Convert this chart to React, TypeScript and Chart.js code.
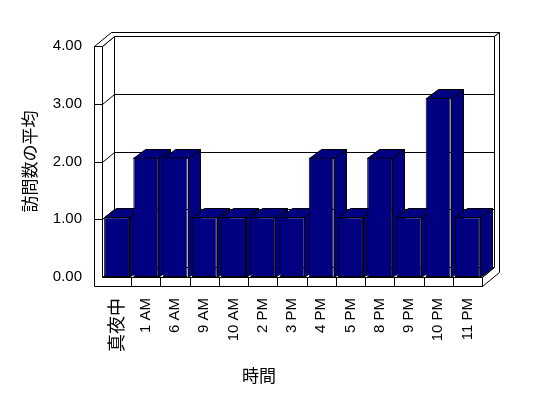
import React, { useEffect, useRef } from 'react';
import { Chart, registerables } from 'chart.js';

Chart.register(...registerables);

// ---- data ----
const categories = ['真夜中', '1 AM', '6 AM', '9 AM', '10 AM', '2 PM', '3 PM', '4 PM', '5 PM', '8 PM', '9 PM', '10 PM', '11 PM'];
const averageVisits = [1, 2, 2, 1, 1, 1, 1, 2, 1, 2, 1, 3, 1];
const yTickValues = [0, 1, 2, 3, 4];
const yAxisTitle = '訪問数の平均';
const xAxisTitle = '時間';

// ---- style ----
const BAR_COLOR = '#000080';
const LINE = '#000000';
const LATIN = "'Liberation Sans', Arial, 'Noto Sans CJK JP', sans-serif";
const CJK = "'Noto Sans CJK JP', 'Liberation Sans', sans-serif";
const DEPTH = { dx: 12, dy: -10 };
const OUTER = 1.45;
const WALL = 8;
const FLOOR = 9;
const BAR_DEPTH = { dx: 12, dy: -9 };

const p = (v: number) => Math.round(v) + 0.5;

const frame3d = {
  id: 'frame3d',
  beforeDatasetsDraw(chart: any) {
    const { ctx, chartArea } = chart;
    const L = chartArea.left, R = chartArea.right, T = chartArea.top, B = chartArea.bottom;
    const ys = chart.scales.y;
    const xs = chart.scales.x;
    const { dx, dy } = DEPTH;
    const ox = dx * OUTER, oy = dy * OUTER;
    ctx.save();
    ctx.lineWidth = 1;
    ctx.strokeStyle = LINE;
    const poly = (pts: number[][], fill: string) => {
      ctx.beginPath();
      pts.forEach(([px, py], i) => (i ? ctx.lineTo(p(px), p(py)) : ctx.moveTo(p(px), p(py))));
      ctx.closePath();
      ctx.fillStyle = fill;
      ctx.fill();
      ctx.stroke();
    };
    const line = (x1: number, y1: number, x2: number, y2: number) => {
      ctx.beginPath();
      ctx.moveTo(p(x1), p(y1));
      ctx.lineTo(p(x2), p(y2));
      ctx.stroke();
    };
    // back wall
    poly([[L + dx, T + dy], [R + dx, T + dy], [R + dx, B + dy], [L + dx, B + dy]], '#fff');
    // left wall inner face
    poly([[L, T], [L + dx, T + dy], [L + dx, B + dy], [L, B]], '#fff');
    // floor top
    poly([[L, B], [L + dx, B + dy], [R + dx, B + dy], [R, B]], '#fff');
    // tops of walls
    poly([[L - WALL, T], [L, T], [L + dx, T + dy], [R + dx, T + dy], [R + ox, T + oy], [L - WALL + ox, T + oy]], '#fff');
    // right faces of back wall and floor
    poly([[R + dx, T + dy], [R + ox, T + oy], [R + ox, B + FLOOR + oy], [R, B + FLOOR], [R, B], [R + dx, B + dy]], '#fff');
    // front faces of left wall and floor
    poly([[L - WALL, T], [L, T], [L, B], [R, B], [R, B + FLOOR], [L - WALL, B + FLOOR]], '#fff');
    // grid lines
    const min = ys.min, max = ys.max;
    yTickValues.forEach((v) => {
      const py = ys.getPixelForValue(v);
      if (v > min && v < max) {
        line(L + dx, py + dy, R + dx, py + dy);
        line(L, py, L + dx, py + dy);
        line(L - WALL, py, L, py);
      }
    });
    // category ticks on floor front
    for (let i = 1; i < categories.length; i++) {
      const bx = (xs.getPixelForValue(i - 1) + xs.getPixelForValue(i)) / 2;
      line(bx, B, bx, B + FLOOR);
    }
    // bar side & top faces
    const meta = chart.getDatasetMeta(0);
    meta.data.forEach((bar: any) => {
      const { x, y, base, width } = bar.getProps(['x', 'y', 'base', 'width'], true);
      const l = x - width / 2, r = x + width / 2;
      const bdx = BAR_DEPTH.dx, bdy = BAR_DEPTH.dy;
      poly([[r, y], [r + bdx, y + bdy], [r + bdx, base + bdy], [r, base]], BAR_COLOR);
      poly([[l, y], [l + bdx, y + bdy], [r + bdx, y + bdy], [r, y]], BAR_COLOR);
    });
    ctx.restore();
  },
  afterDraw(chart: any) {
    const { ctx } = chart;
    ctx.save();
    ctx.font = `17px ${CJK}`;
    ctx.fillStyle = '#000';
    ctx.textAlign = 'center';
    ctx.textBaseline = 'middle';
    ctx.fillText(xAxisTitle, 259, 376);
    ctx.restore();
  },
};

export default function App() {
  const canvasRef = useRef<HTMLCanvasElement | null>(null);

  useEffect(() => {
    const canvas = canvasRef.current;
    if (!canvas) return;
    const chart = new Chart(canvas, {
      type: 'bar',
      data: {
        labels: categories,
        datasets: [
          {
            data: averageVisits,
            backgroundColor: BAR_COLOR,
            borderColor: LINE,
            borderWidth: 1,
            borderSkipped: false,
            barPercentage: 0.855,
            categoryPercentage: 1,
            yAxisID: 'y1',
          },
        ],
      },
      options: {
        responsive: false,
        animation: false,
        devicePixelRatio: 1,
        layout: { padding: { top: 46, right: 66, left: 0, bottom: 0 } },
        plugins: { legend: { display: false }, tooltip: { enabled: false } },
        scales: {
          x: {
            grid: { display: false, drawTicks: false },
            border: { display: false },
            ticks: {
              autoSkip: false,
              maxRotation: 90,
              minRotation: 90,
              padding: 21,
              color: '#000',
              font: (c: any) => (c.index === 0 ? { family: CJK, size: 18 } : { family: LATIN, size: 15 }),
            },
            afterFit: (s: any) => {
              s.height = 121;
            },
          },
          y: {
            min: 0,
            max: 4,
            grid: { display: false, drawTicks: false },
            border: { display: false },
            ticks: {
              stepSize: 1,
              padding: 20,
              color: '#000',
              font: { family: LATIN, size: 15 },
              callback: (v: any) => Number(v).toFixed(2),
            },
            title: {
              display: true,
              text: yAxisTitle,
              color: '#000',
              font: { family: CJK, size: 17 },
              padding: { top: 19, bottom: 0 },
            },
            afterFit: (s: any) => {
              s.width = 102;
            },
          },
          y1: { display: false, min: 0, max: 3.87 },
        },
      },
      plugins: [frame3d],
    } as any);
    return () => chart.destroy();
  }, []);

  return (
    <div style={{ position: 'absolute', left: 0, top: 0, width: 548, height: 398, background: '#fff' }}>
      <canvas ref={canvasRef} width={548} height={398} />
    </div>
  );
}
